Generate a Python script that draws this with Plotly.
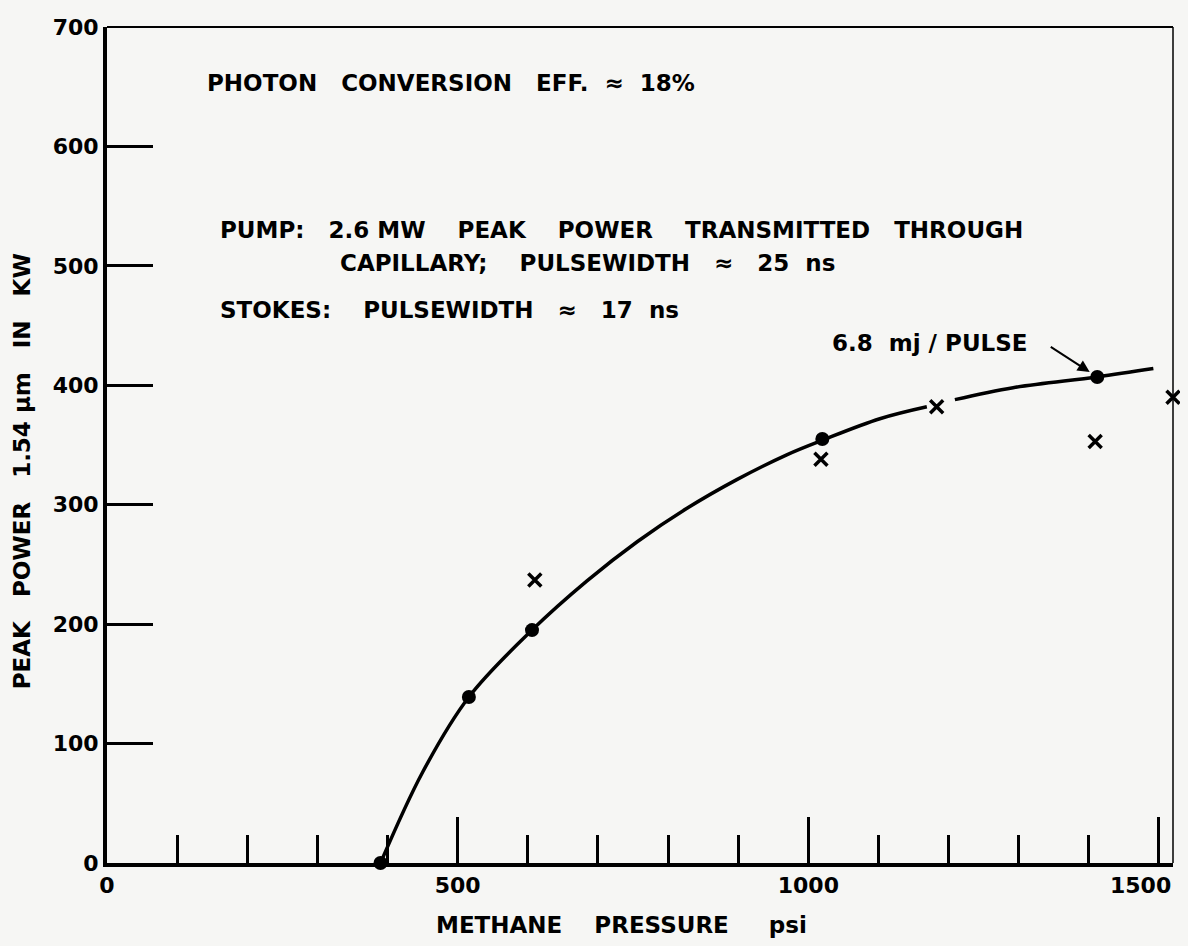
import plotly.graph_objects as go

# Measured points (dots) on the fitted curve
dot_x = [390, 516, 606, 1020, 1412]
dot_y = [0, 139, 195, 355, 407]

# Crosses
cross_x = [610, 1018, 1183, 1409, 1520]
cross_y = [237, 338, 382, 353, 390]

# Hand-drawn curve (None = gap at the cross)
curve_x = [390, 450, 516, 606, 684, 756, 827, 898, 970, 1020, 1102, 1169, None, 1209, 1292, 1412, 1492]
curve_y = [0, 76, 139, 195, 236, 269, 297, 321, 342, 354, 372, 382, None, 388, 398, 407, 414]

x_major = [0, 500, 1000, 1500]
x_major_text = ["0", "500", "1000", ""]
last_x_label = "1500"
y_ticks = [0, 100, 200, 300, 400, 500, 600, 700]

FONT = "DejaVu Sans"
BG = "#f6f6f4"
S = "\u00a0"

fig = go.Figure()
fig.add_trace(go.Scatter(x=curve_x, y=curve_y, mode="lines", line=dict(color="black", width=3.5, shape="spline", smoothing=1.0),
                         connectgaps=False, hoverinfo="skip", cliponaxis=False))
fig.add_trace(go.Scatter(x=dot_x, y=dot_y, mode="markers", marker=dict(symbol="circle", size=14, color="black"), cliponaxis=False))
fig.add_trace(go.Scatter(x=cross_x, y=cross_y, mode="markers",
                         marker=dict(symbol="x-thin", size=13, color="black", line=dict(color="black", width=3.5)), cliponaxis=False))

fig.update_layout(
    width=1172, height=930,
    margin=dict(l=99, r=7, t=14, b=75),
    paper_bgcolor=BG, plot_bgcolor=BG,
    showlegend=False,
    font=dict(family=FONT, size=22, color="black", weight="bold"),
)
fig.update_xaxes(range=[0, 1520], showgrid=False, zeroline=False, showline=True, linewidth=4, linecolor="black",
                 tickmode="array", tickvals=x_major, ticktext=x_major_text, ticks="inside", ticklen=46, tickwidth=2.5,
                 tickcolor="black", tickfont=dict(family=FONT, size=22, weight="bold"),
                 minor=dict(dtick=100, ticks="inside", ticklen=28, tickwidth=2.5, tickcolor="black"))
fig.update_yaxes(range=[0, 700], showgrid=False, zeroline=False, showline=True, linewidth=4, linecolor="black",
                 tickmode="array", tickvals=y_ticks, ticks="inside", ticklen=46, tickwidth=2.5, tickcolor="black",
                 tickfont=dict(family=FONT, size=22, weight="bold"), ticklabelstandoff=0)

# top and right border lines
fig.add_shape(type="line", xref="paper", yref="paper", x0=0, x1=1, y0=1, y1=1, line=dict(color="black", width=2))
fig.add_shape(type="line", xref="paper", yref="paper", x0=1, x1=1, y0=0, y1=1, line=dict(color="black", width=1.5))

# last x tick label (sits left of its tick so it stays inside the page)
fig.add_annotation(x=x_major[-1], y=0, xref="x", yref="paper", text=last_x_label, showarrow=False,
                   xanchor="center", yanchor="top", xshift=-18, yshift=-8,
                   font=dict(family=FONT, size=22, color="black", weight="bold"))

def txt(x, y, s, size=23):
    fig.add_annotation(x=x, y=y, xref="x", yref="y", text=s, showarrow=False, xanchor="left", yanchor="middle",
                       font=dict(family=FONT, size=size, color="black", weight="bold"))

txt(140, 653, "PHOTON" + S*3 + "CONVERSION" + S*3 + "EFF." + S*2 + "\u2248" + S*2 + "18%")
txt(158, 530, "PUMP:" + S*3 + "2.6" + S + "MW" + S*4 + "PEAK" + S*4 + "POWER" + S*4 + "TRANSMITTED" + S*3 + "THROUGH")
txt(329, 502, "CAPILLARY;" + S*4 + "PULSEWIDTH" + S*3 + "\u2248" + S*3 + "25" + S*2 + "ns")
txt(158, 463, "STOKES:" + S*4 + "PULSEWIDTH" + S*3 + "\u2248" + S*3 + "17" + S*2 + "ns")
txt(1031, 435, "6.8" + S*2 + "mj" + S + "/" + S + "PULSE")

# arrow to 6.8 mJ point
fig.add_annotation(x=1412, y=407, xref="x", yref="y", text="", showarrow=True, arrowhead=2, arrowsize=1.2,
                   arrowwidth=2, arrowcolor="black", ax=-48, ay=-31, standoff=9)

# axis titles
fig.add_annotation(x=-0.0797, y=328, xref="paper", yref="y", xanchor="center", yanchor="middle",
                   text="PEAK" + S*3 + "POWER" + S*3 + "1.54" + S + "\u03bcm" + S*3 + "IN" + S*3 + "KW",
                   textangle=-90, showarrow=False, font=dict(family=FONT, size=23, color="black", weight="bold"))
fig.add_annotation(x=734, y=-0.0745, xref="x", yref="paper", xanchor="center", yanchor="middle",
                   text="METHANE" + S*4 + "PRESSURE" + S*5 + "psi",
                   showarrow=False, font=dict(family=FONT, size=23, color="black", weight="bold"))

fig.write_html("out.html", config={"displayModeBar": False},
               post_script="document.body.style.background='#f6f6f4';")
